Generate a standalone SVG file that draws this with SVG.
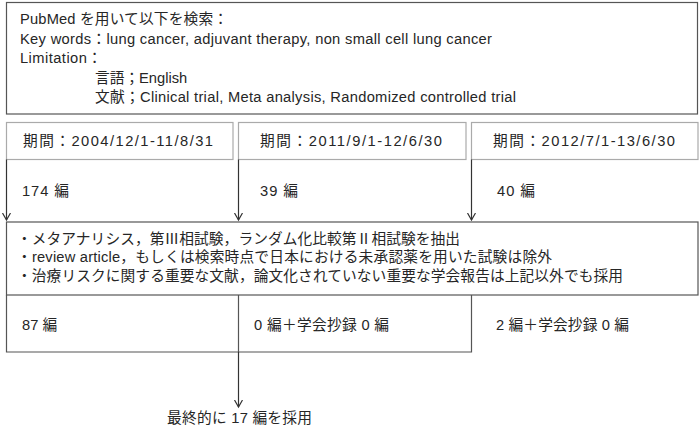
<svg xmlns="http://www.w3.org/2000/svg" width="700" height="427" viewBox="0 0 700 427">
<defs>
<style>
.t{font-family:"Liberation Sans","Noto Sans CJK JP",sans-serif;font-size:14.7px;fill:#262626}
.box{fill:none;stroke:#555;stroke-width:1.2}
.hdr{fill:#fff;stroke:#aaa;stroke-width:1.2}
.ln{fill:none;stroke:#333;stroke-width:1.2}
</style>
<marker id="ah" markerWidth="10" markerHeight="10" refX="7.5" refY="4.5" orient="auto" markerUnits="userSpaceOnUse" viewBox="0 0 10 10">
<polyline points="0.5,0.5 7.5,4.5 0.5,8.5" fill="none" stroke="#333" stroke-width="1.2"/>
</marker>
</defs>
<rect width="700" height="427" fill="#fff"/>
<g id="search">
<rect class="box" x="6.5" y="2.5" width="691" height="111.5"/>
<text class="t" x="20" y="24" textLength="208" lengthAdjust="spacing">PubMed を用いて以下を検索：</text>
<text class="t" x="20" y="43.5" textLength="472" lengthAdjust="spacing">Key words：lung cancer, adjuvant therapy, non small cell lung cancer</text>
<text class="t" x="20" y="63" textLength="82" lengthAdjust="spacing">Limitation：</text>
<text class="t" x="95" y="82.5">言語；English</text>
<text class="t" x="95" y="102" textLength="421" lengthAdjust="spacing">文献；Clinical trial, Meta analysis, Randomized controlled trial</text>
</g>
<g id="period1">
<rect class="hdr" x="6.5" y="122.5" width="226.5" height="37"/>
<text class="t" x="23" y="146" textLength="190" lengthAdjust="spacing">期間：2004/12/1-11/8/31</text>
<text class="t" x="22" y="196" textLength="47" lengthAdjust="spacing">174 編</text>
</g>
<g id="period2">
<rect class="hdr" x="238.5" y="122.5" width="227.5" height="37"/>
<text class="t" x="260" y="146" textLength="182" lengthAdjust="spacing">期間：2011/9/1-12/6/30</text>
<text class="t" x="260" y="196" textLength="38" lengthAdjust="spacing">39 編</text>
</g>
<g id="period3">
<rect class="hdr" x="471.5" y="122.5" width="226.5" height="37"/>
<text class="t" x="493" y="146" textLength="182" lengthAdjust="spacing">期間：2012/7/1-13/6/30</text>
<text class="t" x="497" y="196" textLength="38" lengthAdjust="spacing">40 編</text>
</g>
<g id="criteria">
<rect class="box" x="6.5" y="222" width="691.5" height="73"/>
<text class="t" x="17" y="243.5" textLength="443" lengthAdjust="spacing">・メタアナリシス，第Ⅲ相試験，ランダム化比較第Ⅱ相試験を抽出</text>
<text class="t" x="17" y="262" textLength="535" lengthAdjust="spacing">・review article，もしくは検索時点で日本における未承認薬を用いた試験は除外</text>
<text class="t" x="17" y="280.5" textLength="606" lengthAdjust="spacing">・治療リスクに関する重要な文献，論文化されていない重要な学会報告は上記以外でも採用</text>
</g>
<g id="results">
<path class="box" d="M6.5 295 V352 H471.5 V295 M238.5 295 V352"/>
<text class="t" x="22" y="330">87 編</text>
<text class="t" x="254" y="330" textLength="135" lengthAdjust="spacing">0 編＋学会抄録 0 編</text>
<text class="t" x="496" y="330" textLength="133" lengthAdjust="spacing">2 編＋学会抄録 0 編</text>
</g>
<g id="final">
<text class="t" x="167" y="423" textLength="145" lengthAdjust="spacing">最終的に 17 編を採用</text>
</g>
<g id="connectors">
<line class="ln" x1="6.5" y1="159.5" x2="6.5" y2="220" marker-end="url(#ah)"/>
<line class="ln" x1="238.5" y1="159.5" x2="238.5" y2="220" marker-end="url(#ah)"/>
<line class="ln" x1="471.5" y1="159.5" x2="471.5" y2="220" marker-end="url(#ah)"/>
<line class="ln" x1="238.5" y1="352" x2="238.5" y2="407" marker-end="url(#ah)"/>
</g>
</svg>
